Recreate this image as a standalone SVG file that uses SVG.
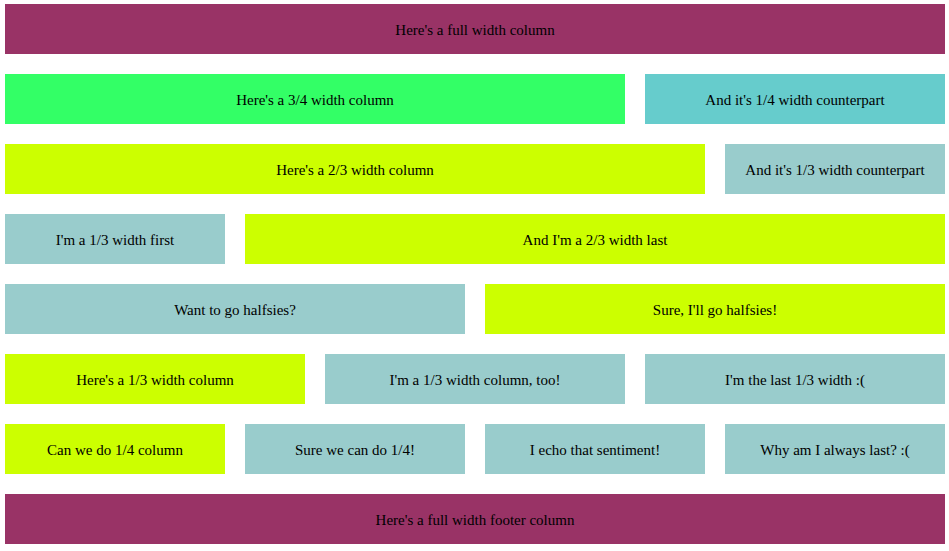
<svg xmlns="http://www.w3.org/2000/svg" width="949" height="551" viewBox="0 0 949 551">
<style>
.t{font-family:"Liberation Serif","Times New Roman",serif;font-size:15px;fill:#000;text-anchor:middle;dominant-baseline:central}
.p{fill:#993366}.g{fill:#33FF66}.c{fill:#66CCCC}.y{fill:#CCFF00}.b{fill:#99CCCC}
</style>
<rect width="949" height="551" fill="#fff"/>
<g id="r1"><rect class="p" x="5" y="4" width="940" height="50"/><text class="t" x="475" y="30">Here's a full width column</text></g>
<g id="r2a"><rect class="g" x="5" y="74" width="620" height="50"/><text class="t" x="315" y="100">Here's a 3/4 width column</text></g>
<g id="r2b"><rect class="c" x="645" y="74" width="300" height="50"/><text class="t" x="795" y="100">And it's 1/4 width counterpart</text></g>
<g id="r3a"><rect class="y" x="5" y="144" width="700" height="50"/><text class="t" x="355" y="170">Here's a 2/3 width column</text></g>
<g id="r3b"><rect class="b" x="725" y="144" width="220" height="50"/><text class="t" x="835" y="170">And it's 1/3 width counterpart</text></g>
<g id="r4a"><rect class="b" x="5" y="214" width="220" height="50"/><text class="t" x="115" y="240">I'm a 1/3 width first</text></g>
<g id="r4b"><rect class="y" x="245" y="214" width="700" height="50"/><text class="t" x="595" y="240">And I'm a 2/3 width last</text></g>
<g id="r5a"><rect class="b" x="5" y="284" width="460" height="50"/><text class="t" x="235" y="310">Want to go halfsies?</text></g>
<g id="r5b"><rect class="y" x="485" y="284" width="460" height="50"/><text class="t" x="715" y="310">Sure, I'll go halfsies!</text></g>
<g id="r6a"><rect class="y" x="5" y="354" width="300" height="50"/><text class="t" x="155" y="380">Here's a 1/3 width column</text></g>
<g id="r6b"><rect class="b" x="325" y="354" width="300" height="50"/><text class="t" x="475" y="380">I'm a 1/3 width column, too!</text></g>
<g id="r6c"><rect class="b" x="645" y="354" width="300" height="50"/><text class="t" x="795" y="380">I'm the last 1/3 width :(</text></g>
<g id="r7a"><rect class="y" x="5" y="424" width="220" height="50"/><text class="t" x="115" y="450">Can we do 1/4 column</text></g>
<g id="r7b"><rect class="b" x="245" y="424" width="220" height="50"/><text class="t" x="355" y="450">Sure we can do 1/4!</text></g>
<g id="r7c"><rect class="b" x="485" y="424" width="220" height="50"/><text class="t" x="595" y="450">I echo that sentiment!</text></g>
<g id="r7d"><rect class="b" x="725" y="424" width="220" height="50"/><text class="t" x="835" y="450">Why am I always last? :(</text></g>
<g id="r8"><rect class="p" x="5" y="494" width="940" height="50"/><text class="t" x="475" y="520">Here's a full width footer column</text></g>
<g id="connectors"/>
</svg>
